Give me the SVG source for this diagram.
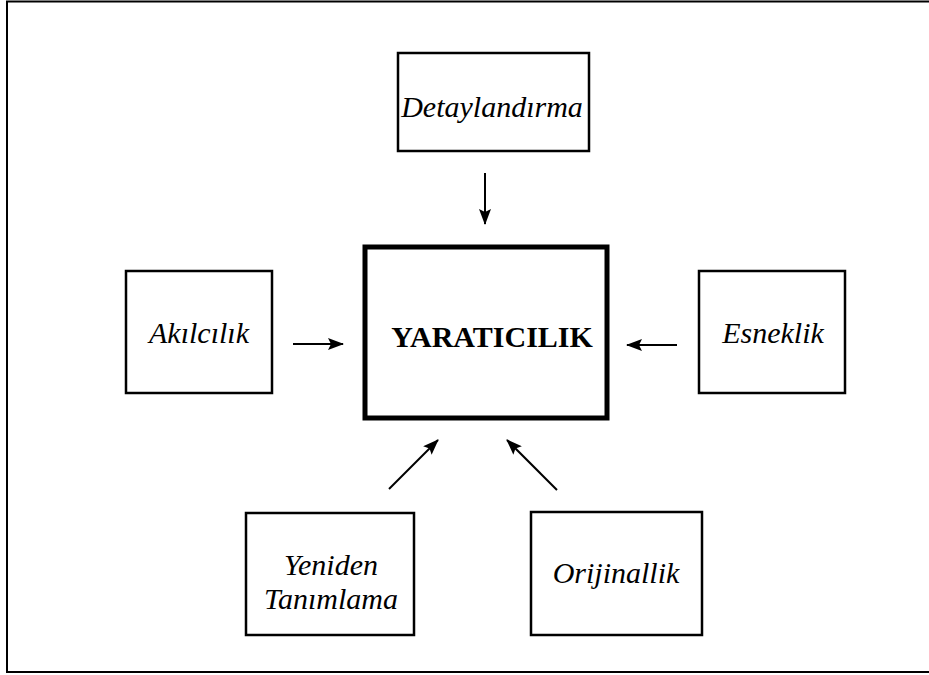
<svg xmlns="http://www.w3.org/2000/svg" width="929" height="675" viewBox="0 0 929 675">
  <style>
    .frame { fill: none; stroke: #000; stroke-width: 2; }
    .box { fill: #fff; stroke: #000; stroke-width: 2.5; }
    .core { fill: #fff; stroke: #000; stroke-width: 5; }
    .lbl { font-family: "Liberation Serif", "Times New Roman", serif; font-style: italic; font-size: 30px; fill: #000; text-anchor: middle; }
    .title { font-family: "Liberation Serif", "Times New Roman", serif; font-weight: bold; font-size: 30px; fill: #000; text-anchor: middle; }
    .conn { stroke: #000; stroke-width: 2; fill: none; marker-end: url(#head); }
  </style>
  <defs>
    <marker id="head" viewBox="0 0 16 12" refX="15" refY="6" markerWidth="16" markerHeight="12" markerUnits="userSpaceOnUse" orient="auto">
      <path d="M0,0 L16,6 L0,12 L3,6 Z" fill="#000"/>
    </marker>
  </defs>

  <rect x="0" y="0" width="929" height="675" fill="#fff"/>
  <!-- outer frame -->
  <rect class="frame" x="7" y="1.5" width="930" height="670.5"/>

  <!-- centre node -->
  <g id="yaraticilik">
    <rect class="core" x="365" y="247" width="242" height="171"/>
    <text class="title" x="492" y="347">YARATICILIK</text>
  </g>

  <g id="detaylandirma">
    <rect class="box" x="398" y="53" width="191" height="98"/>
    <text class="lbl" x="492" y="117">Detaylandırma</text>
  </g>

  <g id="akilcilik">
    <rect class="box" x="126" y="271" width="146" height="122"/>
    <text class="lbl" x="199" y="343">Akılcılık</text>
  </g>

  <g id="esneklik">
    <rect class="box" x="699" y="271" width="146" height="122"/>
    <text class="lbl" x="773" y="343">Esneklik</text>
  </g>

  <g id="yeniden-tanimlama">
    <rect class="box" x="246" y="513" width="168" height="122"/>
    <text class="lbl" x="331" y="575">Yeniden</text>
    <text class="lbl" x="331" y="609">Tanımlama</text>
  </g>

  <g id="orijinallik">
    <rect class="box" x="531" y="512" width="171" height="123"/>
    <text class="lbl" x="616" y="583">Orijinallik</text>
  </g>

  <!-- connectors -->
  <g id="connectors">
    <line class="conn" x1="485" y1="173" x2="485" y2="224"/>
    <line class="conn" x1="293" y1="344" x2="343" y2="344"/>
    <line class="conn" x1="677" y1="345" x2="627" y2="345"/>
    <line class="conn" x1="389" y1="489" x2="438" y2="440"/>
    <line class="conn" x1="557" y1="490" x2="507" y2="440"/>
  </g>
</svg>
